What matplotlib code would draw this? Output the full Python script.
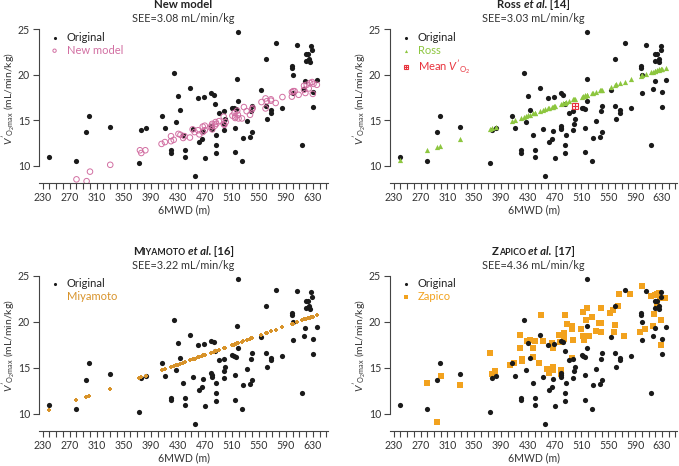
import matplotlib
matplotlib.use("Agg")
import matplotlib.pyplot as plt
import numpy as np
from matplotlib.legend_handler import HandlerTuple

plt.rcParams['font.family'] = ['Lato', 'DejaVu Sans']
plt.rcParams['mathtext.fontset'] = 'custom'
plt.rcParams['mathtext.rm'] = 'Lato'
plt.rcParams['mathtext.it'] = 'Lato:italic'
plt.rcParams['mathtext.bf'] = 'Lato:bold'

# measured data (6MWD in m, VO2max in mL/min/kg)
orig_x = [240, 280, 294, 299, 329, 373, 376, 383, 406, 411, 420, 420, 424, 428, 430, 433, 438, 440, 441, 448,
          452, 455, 460, 462, 466, 467, 469, 470, 479, 483, 479, 480, 480, 485, 486, 486, 487, 491, 498, 498,
          499, 500, 511, 513, 515, 515, 518, 519, 519, 516, 525, 527, 532, 537, 540, 539, 540, 554, 560, 560,
          562, 568, 568, 575, 584, 599, 599, 601, 601, 607, 614, 617, 619, 620, 623, 620, 625, 626, 628, 629,
          630, 630, 636]
orig_y = [11.0, 10.5, 13.7, 15.5, 14.3, 10.25, 13.9, 14.1, 15.5, 14.1, 11.7, 11.45, 20.2, 14.8, 17.7, 16.1, 13.4, 11.0, 11.7, 18.6,
          14.0, 8.9, 17.45, 12.6, 12.9, 13.8, 17.6, 10.8, 17.95, 17.75, 14.4, 14.2, 14.0, 16.8, 12.3, 11.4, 13.4, 15.8, 16.0, 13.9,
          14.6, 15.1, 16.35, 16.3, 14.2, 11.5, 19.5, 24.7, 17.1, 16.2, 10.5, 13.1, 14.9, 13.2, 16.6, 16.0, 13.7, 18.3, 21.7, 16.6,
          15.1, 16.1, 15.8, 23.5, 16.3, 21.0, 20.7, 18.05, 19.95, 23.3, 12.3, 18.4, 19.3, 22.3, 22.3, 21.5, 21.7, 21.4, 23.2, 22.7,
          18.1, 16.5, 19.45]

new_x = [280, 295, 300, 330, 374, 376, 382, 406, 411, 420, 420, 424, 431, 434, 438, 440, 448, 452, 455, 460,
         462, 467, 467, 470, 470, 479, 480, 481, 481, 485, 486, 487, 491, 498, 498, 499, 501, 511, 514, 515,
         515, 518, 519, 520, 525, 528, 532, 537, 540, 541, 554, 560, 560, 562, 568, 568, 575, 585, 599, 599,
         601, 603, 609, 617, 617, 619, 621, 624, 626, 629, 631, 630, 636]
new_y = [8.5, 8.3, 9.35, 10.1, 11.7, 11.4, 11.7, 12.4, 12.6, 13.25, 12.7, 12.85, 13.5, 13.4, 13.05, 13.25, 13.1, 14.0, 13.7, 13.9,
         13.45, 14.3, 13.7, 14.4, 13.9, 14.2, 14.4, 14.6, 14.0, 14.4, 14.8, 14.6, 14.9, 15.4, 14.6, 14.5, 14.8, 15.5, 15.8, 15.4,
         15.25, 16.05, 15.6, 15.2, 15.2, 16.45, 16.0, 15.6, 16.2, 16.35, 17.0, 17.4, 16.3, 17.1, 17.15, 17.3, 16.9, 17.55, 18.1, 17.6,
         18.2, 18.2, 17.8, 18.8, 18.35, 18.0, 18.9, 18.5, 19.1, 19.2, 19.0, 17.9, 18.9]

pred_x = [240, 280, 294, 299, 329, 373, 376, 383, 406, 411, 420, 424, 428, 430, 433, 438, 440, 441, 448, 452,
          455, 460, 462, 466, 467, 469, 470, 479, 483, 485, 486, 487, 491, 498, 499, 500, 511, 513, 515, 516,
          518, 519, 525, 527, 532, 537, 539, 540, 554, 560, 562, 568, 575, 584, 599, 601, 607, 614, 617, 619,
          620, 623, 625, 626, 628, 629, 630, 636]
ross_y = [10.65, 11.7, 12.05, 12.2, 12.95, 14.05, 14.15, 14.3, 14.9, 15.05, 15.3, 15.4, 15.5, 15.55, 15.6, 15.75, 15.8, 15.8, 16.0, 16.1,
          16.2, 16.3, 16.35, 16.45, 16.5, 16.55, 16.55, 16.8, 16.9, 16.95, 16.95, 17.0, 17.1, 17.3, 17.3, 17.35, 17.6, 17.65, 17.7, 17.75,
          17.8, 17.8, 17.95, 18.0, 18.15, 18.3, 18.35, 18.35, 18.7, 18.9, 18.95, 19.1, 19.25, 19.5, 19.9, 19.95, 20.1, 20.3, 20.35, 20.4,
          20.45, 20.5, 20.55, 20.6, 20.6, 20.65, 20.65, 20.8]
miya_y = [10.4, 11.45, 11.8, 11.95, 12.7, 13.85, 13.95, 14.15, 14.75, 14.85, 15.1, 15.2, 15.3, 15.35, 15.45, 15.55, 15.6, 15.65, 15.85, 15.95,
          16.0, 16.15, 16.2, 16.3, 16.35, 16.4, 16.4, 16.65, 16.75, 16.8, 16.8, 16.85, 16.95, 17.15, 17.15, 17.2, 17.45, 17.5, 17.55, 17.6,
          17.65, 17.7, 17.85, 17.9, 18.0, 18.15, 18.2, 18.25, 18.6, 18.75, 18.8, 18.95, 19.15, 19.4, 19.75, 19.8, 19.95, 20.15, 20.25, 20.3,
          20.3, 20.4, 20.45, 20.45, 20.5, 20.55, 20.55, 20.7]
mean_x = [500]
mean_y = [16.6]

zap_x = [279, 295, 300, 329, 373, 376, 381, 404, 410, 419, 419, 422, 422, 429, 433, 438, 438, 441, 446, 450,
         453, 458, 461, 466, 467, 468, 468, 477, 478, 479, 480, 484, 484, 485, 488, 496, 496, 498, 496, 510,
         513, 513, 514, 517, 518, 522, 525, 532, 536, 539, 539, 539, 553, 557, 558, 560, 565, 566, 573, 583,
         597, 600, 605, 614, 616, 618, 620, 622, 623, 625, 627, 628, 628, 630, 634]
zap_y = [13.3, 9.1, 14.15, 13.1, 16.6, 14.3, 14.7, 15.35, 15.5, 18.6, 17.2, 16.0, 15.7, 17.9, 18.05, 17.2, 16.2, 17.95, 15.5, 20.7,
         17.95, 14.9, 14.45, 17.7, 17.15, 15.05, 14.8, 18.6, 17.8, 14.3, 14.8, 18.8, 18.1, 20.75, 19.75, 19.5, 19.2, 18.0, 16.05, 19.2,
         21.05, 18.5, 18.0, 20.15, 21.5, 18.4, 20.55, 19.0, 19.85, 19.85, 18.85, 21.45, 20.9, 21.3, 18.9, 19.6, 21.7, 23.0, 18.5, 23.0,
         18.9, 23.9, 19.2, 22.75, 19.5, 20.8, 22.95, 21.7, 23.05, 23.1, 22.55, 20.15, 17.5, 22.6, 22.6]

pink = "#d26fa2"
green = "#8dc63f"
red = "#e8323c"
miya_c = "#d8932a"
zap_c = "#f2a21e"
dark = "#1a1a1a"
grey = "#444444"

W, H = 679, 466
fig = plt.figure(figsize=(W / 100, H / 100), dpi=100)

# axes positions in pixels: left, right, top, bottom
boxes = [(39, 328, 27.5, 183), (390, 677, 27.5, 183),
         (39, 328, 273.9, 431.3), (390, 677, 273.9, 431.3)]
axs = []
for (l, r, t, b) in boxes:
    ax = fig.add_axes([l / W, 1 - b / H, (r - l) / W, (b - t) / H])
    axs.append(ax)

ylab = r"$V'_{\mathrm{O_2max}}$ (mL/min/kg)"
for ax, (l, r, t, b) in zip(axs, boxes):
    ax.set_xlim(224.5, 652.5)
    ax.set_ylim(8.1, 25.2)
    ax.spines['top'].set_visible(False)
    ax.spines['right'].set_visible(False)
    ax.spines['left'].set_bounds(10, 25)
    ax.spines['left'].set_color(grey)
    ax.spines['bottom'].set_color(grey)
    ax.spines['left'].set_linewidth(0.8)
    ax.spines['bottom'].set_linewidth(0.8)
    ax.set_xticks(np.arange(230, 651, 10), minor=True)
    ax.set_xticks(np.arange(230, 631, 40))
    ax.set_yticks([10, 15, 20, 25])
    ax.tick_params(axis='both', which='both', direction='out', length=4.5, width=0.8,
                   color=grey, labelsize=7.6, labelcolor="#333333", pad=2)
    ax.set_xlabel("6MWD (m)", fontsize=7.6, color="#333333", labelpad=1)
    # y label placed by hand so it stays inside the figure
    yc = t + 1.8 + (b - t - 1.8) * 0.5 - 8
    fig.text((l - 30) / W, 1 - yc / H, ylab, rotation=90, fontsize=7.5, color="#333333",
             ha='center', va='center')
    ax.scatter(orig_x, orig_y, s=14, color=dark, linewidths=0, label="Original", zorder=3)

# panel 1: new model
axs[0].scatter(new_x, new_y, s=16, facecolors='none', edgecolors=pink, linewidths=0.7, label="New model", zorder=4)
axs[0].legend(loc='upper left', frameon=False, fontsize=8, handletextpad=0.1, borderaxespad=0.2,
              labelspacing=0.15, markerscale=0.6, labelcolor=["#222222", pink], borderpad=0.2)

# panel 2: Ross
axs[1].scatter(pred_x, ross_y, s=14, marker='^', color=green, linewidths=0, label="Ross", zorder=4)
m1, = axs[1].plot(mean_x, mean_y, marker='s', ms=5, mfc='none', mec=red, mew=0.8, ls='none', zorder=5)
m2, = axs[1].plot(mean_x, mean_y, marker='+', ms=5, color=red, mew=0.8, ls='none', zorder=5)
h, lab = axs[1].get_legend_handles_labels()
axs[1].legend(h + [(m1, m2)], lab + [r"Mean $V'_{\mathrm{O_2}}$"], loc='upper left', frameon=False,
              fontsize=8, handletextpad=0.1, borderaxespad=0.2, labelspacing=0.15, markerscale=0.6,
              labelcolor=["#222222", green, red], borderpad=0.2,
              handler_map={tuple: HandlerTuple(ndivide=1)})

# panel 3: Miyamoto
axs[2].scatter(pred_x, miya_y, s=10, marker='P', color=miya_c, linewidths=0, label="Miyamoto", zorder=4)
axs[2].legend(loc='upper left', frameon=False, fontsize=8, handletextpad=0.1, borderaxespad=0.2,
              labelspacing=0.15, markerscale=0.6, labelcolor=["#222222", miya_c], borderpad=0.2)

# panel 4: Zapico
axs[3].scatter(zap_x, zap_y, s=13, marker='s', color=zap_c, linewidths=0, label="Zapico", zorder=2)
axs[3].legend(loc='upper left', frameon=False, fontsize=8, handletextpad=0.1, borderaxespad=0.2,
              labelspacing=0.15, markerscale=0.6, labelcolor=["#222222", zap_c], borderpad=0.2)

# titles built from pieces (small caps, italics)
renderer = fig.canvas.get_renderer()


def rich_title(cx, cy, pieces):
    texts = []
    for s, size, style in pieces:
        t = fig.text(0, cy, s, fontsize=size, fontweight='bold', fontstyle=style,
                     color="#222222", va='baseline', ha='left')
        texts.append(t)
    widths = [t.get_window_extent(renderer).width for t in texts]
    x = cx - sum(widths) / 2
    for t, w in zip(texts, widths):
        t.set_x(x / W)
        x += w


titles = [
    [("New model", 8.2, 'normal')],
    [("Ross ", 8.2, 'normal'), ("et al.", 8.2, 'italic'), (" [14]", 8.2, 'normal')],
    [("M", 8.2, 'normal'), ("IYAMOTO ", 6.3, 'normal'), ("et al.", 8.2, 'italic'), (" [16]", 8.2, 'normal')],
    [("Z", 8.2, 'normal'), ("APICO ", 6.3, 'normal'), ("et al.", 8.2, 'italic'), (" [17]", 8.2, 'normal')],
]
sees = ["SEE=3.08 mL/min/kg", "SEE=3.03 mL/min/kg", "SEE=3.22 mL/min/kg", "SEE=4.36 mL/min/kg"]

for i, (l, r, t, b) in enumerate(boxes):
    cx = (l + r) / 2
    rich_title(cx, 1 - (t - 19) / H, titles[i])
    fig.text(cx / W, 1 - (t - 5) / H, sees[i], fontsize=7.8, color="#333333", ha='center', va='baseline')

fig.savefig("out.png", dpi=100)
